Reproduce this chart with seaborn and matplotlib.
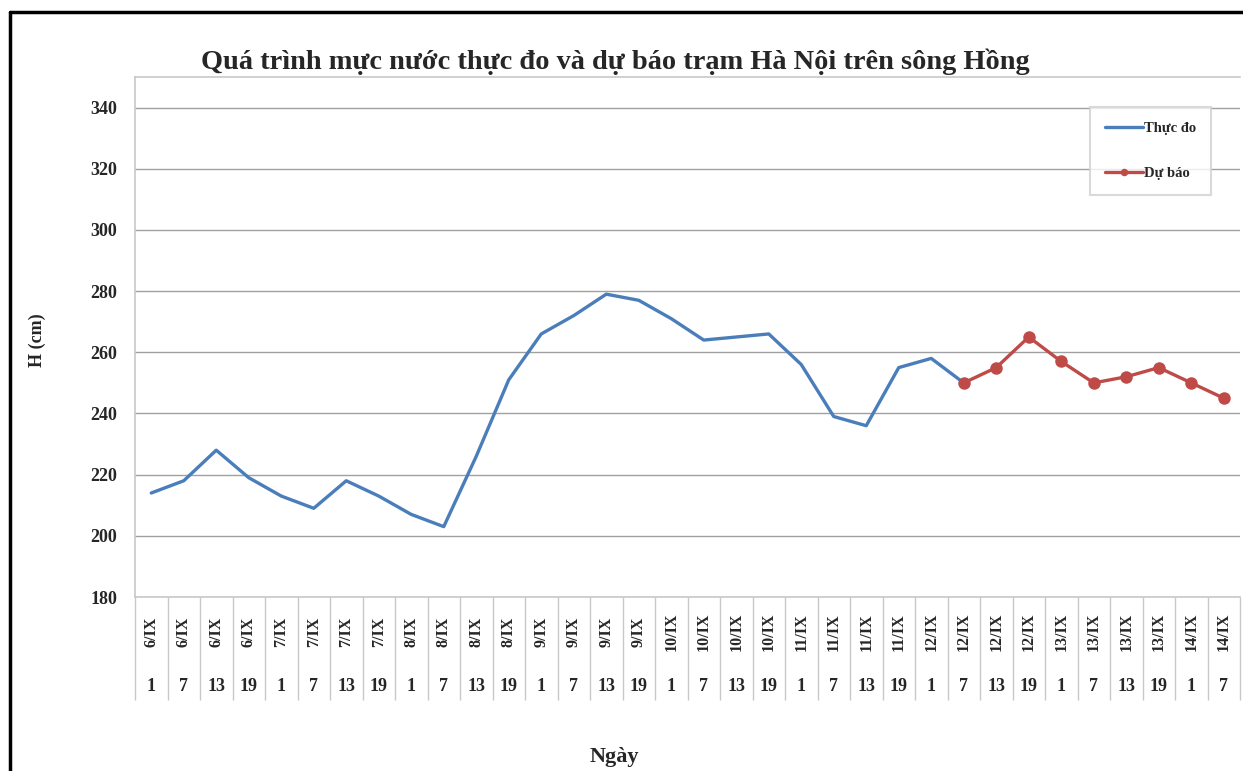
import matplotlib
matplotlib.use('Agg')
import numpy as np
import pandas as pd
import seaborn as sns
import matplotlib.pyplot as plt
from matplotlib.lines import Line2D

ngay = ['6/IX', '6/IX', '6/IX', '6/IX', '7/IX', '7/IX', '7/IX', '7/IX',
        '8/IX', '8/IX', '8/IX', '8/IX', '9/IX', '9/IX', '9/IX', '9/IX',
        '10/IX', '10/IX', '10/IX', '10/IX', '11/IX', '11/IX', '11/IX', '11/IX',
        '12/IX', '12/IX', '12/IX', '12/IX', '13/IX', '13/IX', '13/IX', '13/IX',
        '14/IX', '14/IX']
gio = ['1', '7', '13', '19'] * 8 + ['1', '7']

# muc nuoc thuc do (cm), tu 6/IX 1h den 12/IX 7h
thuc_do = [214, 218, 228, 219, 213, 209, 218, 213, 207, 203, 226, 251, 266,
           272, 279, 277, 271, 264, 265, 266, 256, 239, 236, 255, 258, 250]
# du bao, tu 12/IX 7h den 14/IX 7h
du_bao = [250, 255, 265, 257, 250, 252, 255, 250, 245]

df_do = pd.DataFrame({'x': range(len(thuc_do)), 'H': thuc_do})
df_bao = pd.DataFrame({'x': range(len(thuc_do) - 1, len(thuc_do) - 1 + len(du_bao)),
                       'H': du_bao})

xanh = '#4a7ebb'
do = '#be4b48'

sns.set_style('white')
plt.rcParams['font.family'] = ['Liberation Serif', 'DejaVu Serif']
plt.rcParams['font.weight'] = 'bold'

fig = plt.figure(figsize=(12.43, 7.71), dpi=100)
ax = fig.add_axes([135 / 1243, 1 - 597 / 771, 1105 / 1243, 520 / 771])

sns.lineplot(data=df_do, x='x', y='H', ax=ax, color=xanh, lw=2.4, label='Thực đo')
sns.lineplot(data=df_bao, x='x', y='H', ax=ax, color=do, lw=2.4, marker='o',
             markersize=9, markeredgewidth=0, label='Dự báo')

ax.set_ylim(180, 350)
ax.set_yticks(range(180, 341, 20))
ax.set_xlim(-0.5, len(ngay) - 0.5)
ax.set_xticks(np.arange(-0.5, len(ngay), 1))
ax.set_xticklabels([])
ax.tick_params(axis='x', bottom=True, direction='out', length=74,
               color='#c8c8c8', width=1)
ax.tick_params(axis='y', length=0, labelsize=13, pad=13)
for t in ax.get_yticklabels():
    t.set_fontweight('bold')
ax.grid(axis='y', color='#a0a0a0', lw=1)
ax.set_xlabel('')
ax.set_ylabel('')
for s in ax.spines.values():
    s.set_color('#c8c8c8')
    s.set_linewidth(1.2)
ax.spines['right'].set_visible(False)

tr = ax.get_xaxis_transform()
for i, (d, h) in enumerate(zip(ngay, gio)):
    ax.text(i, -0.067, d, transform=tr, rotation=90, ha='center', va='center',
            fontsize=11.5, fontweight='bold')
    ax.text(i, -0.173, h, transform=tr, ha='center', va='center',
            fontsize=13, fontweight='bold')

fig.text(615 / 1243, 1 - 62 / 771,
         'Quá trình mực nước thực đo và dự báo trạm Hà Nội trên sông Hồng',
         ha='center', va='center', fontsize=20.4, fontweight='bold')
fig.text(614 / 1243, 1 - 757 / 771, 'Ngày', ha='center', va='center',
         fontsize=16, fontweight='bold')
fig.text(37 / 1243, 1 - 340 / 771, 'H (cm)', rotation=90, ha='center',
         va='center', fontsize=13, fontweight='bold')

h, l = ax.get_legend_handles_labels()
leg = ax.legend(h, l, loc='upper left', bbox_to_anchor=(1083 / 1243, 1 - 100 / 771),
                bbox_transform=fig.transFigure, frameon=True, fancybox=False,
                edgecolor='#d0d0d0', labelspacing=2.2,
                handlelength=2.6, handletextpad=0.1, borderpad=1.0,
                markerscale=0.6, prop={'weight': 'bold', 'size': 10.5})
leg.get_frame().set_linewidth(1.5)

# khung ngoai
fig.add_artist(Line2D([10 / 1243, 10 / 1243], [0, 1 - 12 / 771], color='black',
                      lw=2.5, transform=fig.transFigure))
fig.add_artist(Line2D([10 / 1243, 1], [1 - 12 / 771, 1 - 12 / 771], color='black',
                      lw=2.5, transform=fig.transFigure))

fig.savefig('out.png', dpi=100)
